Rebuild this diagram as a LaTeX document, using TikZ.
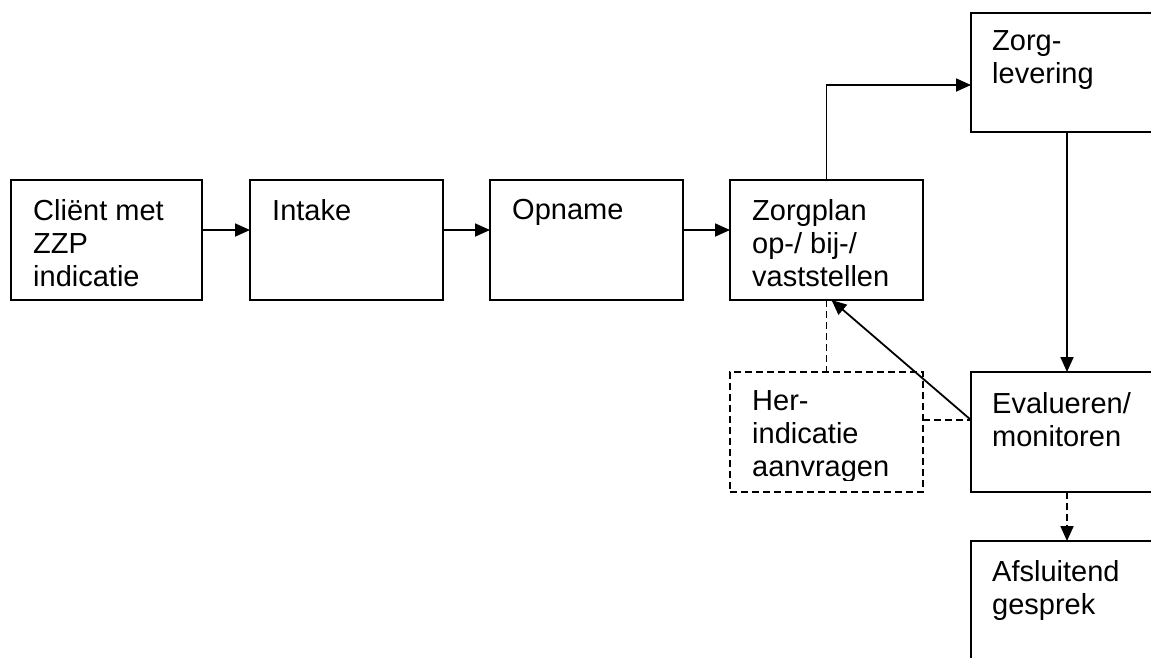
\documentclass[tikz,border=0pt]{standalone}
\usepackage{fontspec}
\setmainfont{Liberation Sans}
\usetikzlibrary{arrows.meta}
\begin{document}
\begin{tikzpicture}[x=1pt,y=-1pt,
  stepbox/.style={draw, line width=1.8pt, inner sep=0pt, outer sep=0pt, anchor=north west, minimum width=192pt, minimum height=120pt},
  dbox/.style={stepbox, dash pattern=on 7pt off 4pt},
  txt/.style={anchor=north west, inner sep=0pt, align=left, font=\fontsize{29}{33}\selectfont},
  arr/.style={line width=1.8pt, -{Triangle[length=15pt,width=13pt]}},
  dline/.style={line width=1.8pt, dash pattern=on 7pt off 4pt}]
\clip (0,0) rectangle (1151,657);
\fill[white] (0,0) rectangle (1151,657);
\node[stepbox, minimum width=191pt] (c) at (11,180) {};
\node[stepbox, minimum width=193pt] (i) at (250,180) {};
\node[stepbox, minimum width=193pt] (o) at (490,180) {};
\node[stepbox, minimum width=193pt] (z) at (730,180) {};
\node[stepbox, minimum height=119pt] (l) at (971,13) {};
\node[stepbox] (e) at (971,372) {};
\node[dbox, minimum width=193pt] (h) at (730,372) {};
\node[stepbox, minimum height=140pt] (a) at (971,541) {};
\node[txt] (ct) at (33,199) {Cliënt met\\ZZP\\indicatie};
\node[txt] (it) at (272,199) {Intake};
\node[txt] (ot) at (512,199) {Opname};
\node[txt] (zt) at (752,199) {Zorgplan\\op-/ bij-/\\vaststellen};
\node[txt] (lt) at (992,30) {Zorg-\\levering};
\node[txt] (et) at (992,392) {Evalueren/\\monitoren};
\node[txt] (at) at (992,560) {Afsluitend\\gesprek};
\begin{scope}
\clip (h.north west) rectangle ([yshift=12pt]h.south east);
\node[txt] (ht) at (752,390) {Her-\\indicatie\\aanvragen};
\end{scope}
\draw[arr] ([yshift=10pt]c.east) -- ([yshift=10pt]i.west);
\draw[arr] ([yshift=10pt]i.east) -- ([yshift=10pt]o.west);
\draw[arr] ([yshift=10pt]o.east) -- ([yshift=10pt]z.west);
\draw[arr] (z.north) |- ([yshift=-12.5pt]l.west);
\draw[arr] (l.south) -- (e.north);
\draw[arr] ([yshift=12pt]e.west) -- ([xshift=5pt]z.south);
\draw[dline] (z.south) -- (h.north);
\draw[dline] ([yshift=12pt]h.east) -- ([yshift=12pt]e.west);
\draw[dline, -{Triangle[length=15pt,width=13pt]}] (e.south) -- (a.north);
\end{tikzpicture}
\end{document}
